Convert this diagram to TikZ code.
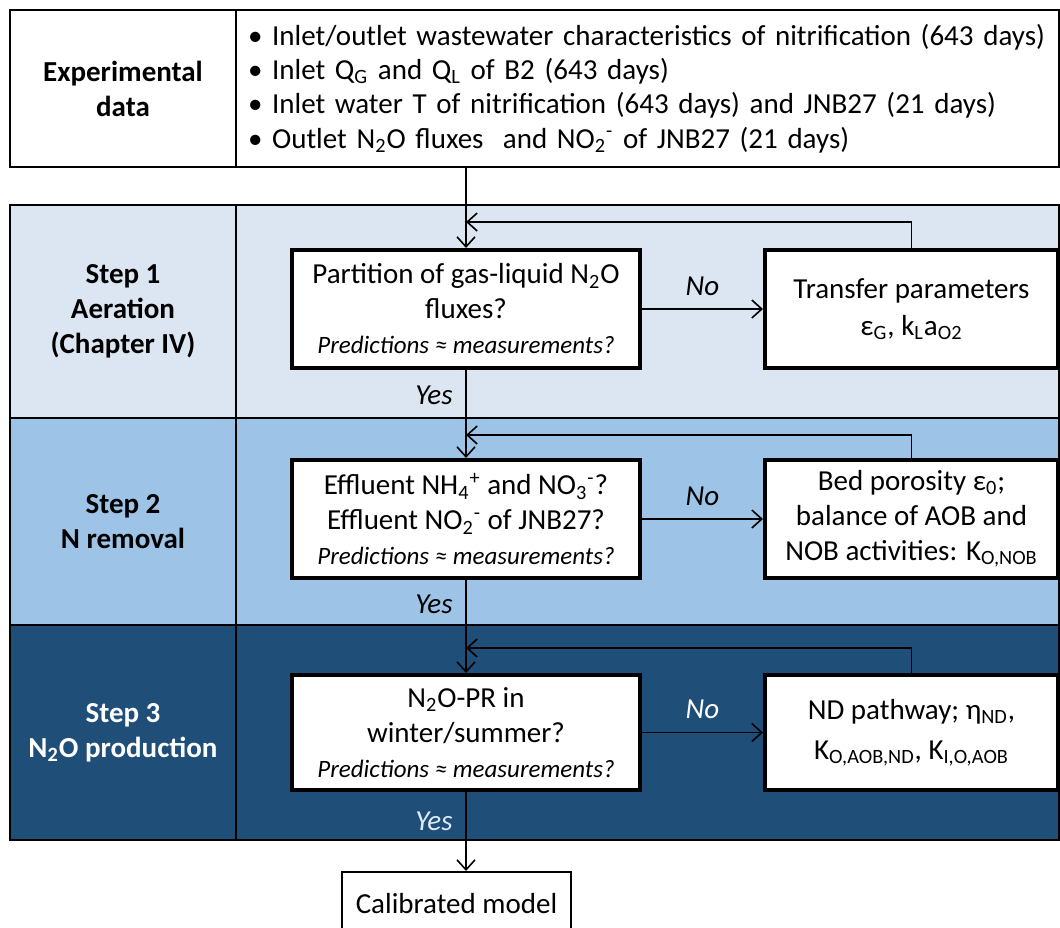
\documentclass[tikz,border=0pt]{standalone}
\usepackage{fontspec}
\setmainfont{Carlito}
\usetikzlibrary{arrows.meta}
\definecolor{rowone}{HTML}{DCE6F2}
\definecolor{rowtwo}{HTML}{9DC3E6}
\definecolor{rowthree}{HTML}{1F4E79}
\definecolor{paleyes}{HTML}{DEEBF7}
\newcommand{\predmeas}{{\itshape\fontsize{12.5}{15}\selectfont Predictions ≈ measurements?}}
\tikzset{
  cell/.style={draw, line width=1pt, inner sep=0pt, align=center,
    font=\bfseries\fontsize{14.5}{17.5}\selectfont},
  question/.style={draw, fill=white, line width=2pt, align=center,
    minimum width=174pt, minimum height=59pt, inner sep=2pt,
    font=\fontsize{14.5}{17.5}\selectfont},
  tuning/.style={draw, fill=white, line width=2pt, align=center,
    minimum width=146.5pt, minimum height=59pt, inner sep=2pt,
    font=\fontsize{14.5}{18.5}\selectfont},
  flow/.style={line width=0.8pt, -{Straight Barb[length=5pt,width=9pt]}},
  answer/.style={font=\itshape\fontsize{14.5}{16}\selectfont}
}
\begin{document}
\begin{tikzpicture}[x=0.5pt,y=-0.5pt]
\useasboundingbox (0,0) rectangle (1060,927);
% experimental data
\node[cell, minimum width=113pt, minimum height=78.5pt] (exp) at (123,88.5) {Experimental\\data};
\node[cell, font=\fontsize{14.5}{17.2}\selectfont, minimum width=411.5pt, minimum height=78.5pt,
  inner xsep=6pt, text width=399.5pt, align=left] (data) at (647.5,88.5)
  {• Inlet/outlet wastewater characteristics of nitrification (643 days)\\
   • Inlet Q\textsubscript{G} and Q\textsubscript{L} of B2 (643 days)\\
   • Inlet water T of nitrification (643 days) and JNB27 (21 days)\\
   • Outlet N\textsubscript{2}O fluxes~ and NO\textsubscript{2}\textsuperscript{-} of JNB27 (21 days)};
% step rows
\node[cell, fill=rowone, minimum width=113pt, minimum height=106.5pt] (step1) at (123,311.5) {Step 1\\Aeration\\(Chapter IV)};
\filldraw[fill=rowone, line width=1pt] (236,205) rectangle (1059,418);
\node[cell, fill=rowtwo, minimum width=113pt, minimum height=103.5pt] (step2) at (123,521.5) {Step 2\\N removal};
\filldraw[fill=rowtwo, line width=1pt] (236,418) rectangle (1059,625);
\node[cell, fill=rowthree, text=white, minimum width=113pt, minimum height=107.5pt] (step3) at (123,732.5) {Step 3\\N\textsubscript{2}O production};
\filldraw[fill=rowthree, line width=1pt] (236,625) rectangle (1059,840);
% questions
\node[question] (dec1) at (466,309) {Partition of gas-liquid N\textsubscript{2}O\\fluxes?\\\predmeas};
\node[question] (dec2) at (466,519) {Effluent NH\textsubscript{4}\textsuperscript{+} and NO\textsubscript{3}\textsuperscript{-}?\\Effluent NO\textsubscript{2}\textsuperscript{-} of JNB27?\\\predmeas};
\node[question, minimum height=57.5pt] (dec3) at (466,732.5) {N\textsubscript{2}O-PR in\\winter/summer?\\\predmeas};
% parameters
\node[tuning] (tune1) at (911.5,309) {Transfer parameters\\ε\textsubscript{G}, k\textsubscript{L}a\textsubscript{O2}};
\node[tuning, font=\fontsize{14.5}{17.5}\selectfont] (tune2) at (911.5,519) {Bed porosity ε\textsubscript{0};\\balance of AOB and\\NOB activities: K\textsubscript{O,NOB}};
\node[tuning, minimum height=57.5pt, font=\fontsize{14.5}{20}\selectfont] (tune3) at (911.5,732.5) {ND pathway; η\textsubscript{ND},\\K\textsubscript{O,AOB,ND}, K\textsubscript{I,O,AOB}};
\node[draw, line width=1pt, fill=white, minimum width=114.5pt, minimum height=32pt,
  font=\fontsize{14.5}{16}\selectfont] (cal) at (456.5,904) {Calibrated model};
\coordinate (loop1) at (466,222);
\coordinate (loop2) at (466,435);
\coordinate (loop3) at (466,648);
% connectors
\draw[flow] (dec1.north |- data.south) -- (dec1.north);
\draw[flow] (dec1.east) -- node[answer, above=3pt] (no1) {No} (tune1.west);
\draw[flow] (tune1.north) |- (loop1);
\draw[flow] (dec1.south) -- node[answer, left=3pt, pos=0.29] (yes1) {Yes} (dec2.north);
\draw[flow] (dec2.east) -- node[answer, above=3pt] (no2) {No} (tune2.west);
\draw[flow] (tune2.north) |- (loop2);
\draw[flow] (dec2.south) -- node[answer, left=3pt, pos=0.26] (yes2) {Yes} (dec3.north);
\draw[flow] (dec3.east) -- node[answer, above=3pt, text=white] (no3) {No} (tune3.west);
\draw[flow] (tune3.north) |- (loop3);
\draw[flow] (dec3.south) -- node[answer, left=3pt, pos=0.37, text=paleyes] (yes3) {Yes} (dec3.south |- cal.north);
\end{tikzpicture}
\end{document}
